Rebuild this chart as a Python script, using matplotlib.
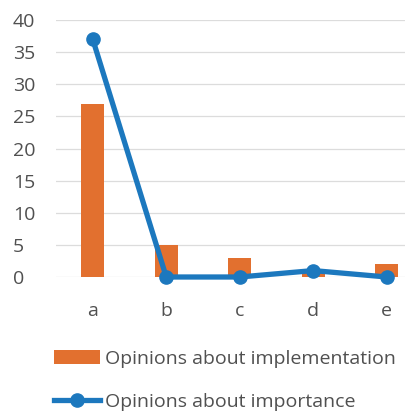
import matplotlib
matplotlib.use("Agg")
import matplotlib.pyplot as plt
import numpy as np

categories = ["a", "b", "c", "d", "e"]
implementation = [27, 5, 3, 1, 2]
importance = [37, 0, 0, 1, 0]
y_ticks = [0, 5, 10, 15, 20, 25, 30, 35, 40]

orange = "#E2702F"
blue = "#1C78BE"
text_color = "#505050"

plt.rcParams["font.family"] = ["Open Sans", "DejaVu Sans"]

fig = plt.figure(figsize=(4.06, 4.18), dpi=100)
ax = fig.add_axes([56 / 406, 1 - 277 / 418, 1 - 56 / 406, (277 - 20) / 418])

x = np.arange(len(categories))
bars = ax.bar(x, implementation, width=0.31, color=orange, zorder=2,
              label="Opinions about implementation")
line, = ax.plot(x, importance, color=blue, lw=3.8, marker="o", markersize=9.5,
                zorder=3, clip_on=False, label="Opinions about importance")

ax.set_xlim(-0.5, -0.5 + 350 / 73.5)
ax.set_ylim(0, 40)
ax.set_yticks(y_ticks)
ax.set_xticks(x)
ax.set_xticklabels(categories)
ax.grid(axis="y", color="#dcdcdc", lw=0.9, zorder=0)
ax.set_axisbelow(True)
for s in ax.spines.values():
    s.set_visible(False)
ax.tick_params(length=0, labelsize=14, colors=text_color)
ax.tick_params(axis="y", pad=31)
ax.tick_params(axis="x", pad=18)
for lbl in ax.get_yticklabels():
    lbl.set_horizontalalignment("left")

fig.legend(handles=[bars, line], loc="upper left", bbox_to_anchor=(46 / 406, 1 - 342 / 418),
           frameon=False, fontsize=14, handlelength=2.4, handletextpad=0.25,
           labelspacing=1.3, labelcolor=text_color, borderaxespad=0)

fig.savefig("out.png", dpi=100)
